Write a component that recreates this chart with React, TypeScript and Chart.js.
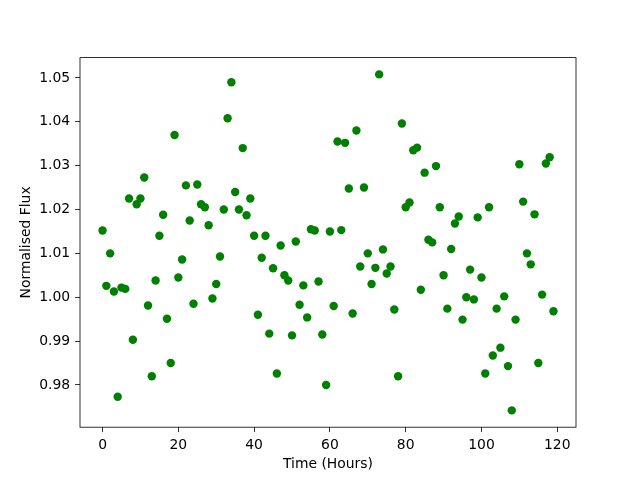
import React, { useEffect, useRef } from "react";
import { Chart, registerables } from "chart.js";

Chart.register(...registerables);

const hours: number[] = Array.from({ length: 120 }, (_, i) => i);

const flux: number[] = [
  1.0152, 1.0026, 1.01, 1.0013, 0.9773, 1.0022, 1.0019, 1.0225, 0.9903, 1.0212,
  1.0225, 1.0273, 0.9981, 0.982, 1.0038, 1.014, 1.0188, 0.9951, 0.985, 1.037,
  1.0045, 1.0086, 1.0255, 1.0175, 0.9985, 1.0257, 1.0212, 1.0205, 1.0164, 0.9997,
  1.003, 1.0093, 1.02, 1.0408, 1.049, 1.024, 1.02, 1.034, 1.0187, 1.0225,
  1.014, 0.996, 1.009, 1.014, 0.9917, 1.0066, 0.9826, 1.0118, 1.005, 1.0038,
  0.9913, 1.0127, 0.9983, 1.0027, 0.9954, 1.0155, 1.0152, 1.0036, 0.9915, 0.98,
  1.015, 0.998, 1.0355, 1.0153, 1.0352, 1.0248, 0.9963, 1.038, 1.007, 1.025,
  1.01, 1.003, 1.0067, 1.0508, 1.0109, 1.0054, 1.007, 0.9972, 0.982, 1.0396,
  1.0205, 1.0216, 1.0335, 1.0341, 1.0017, 1.0284, 1.0131, 1.0125, 1.0299, 1.0205,
  1.005, 0.9974, 1.011, 1.0168, 1.0184, 0.9949, 1.0, 1.0063, 0.9995, 1.0182,
  1.0045, 0.9826, 1.0205, 0.9867, 0.9974, 0.9885, 1.0002, 0.9843, 0.9742, 0.9949,
  1.0303, 1.0218, 1.01, 1.0075, 1.0189, 0.985, 1.0006, 1.0305, 1.0319, 0.9968,
];

const xTicks: number[] = [0, 20, 40, 60, 80, 100, 120];
const yTicks: number[] = [0.98, 0.99, 1.0, 1.01, 1.02, 1.03, 1.04, 1.05];

const xLabel = "Time (Hours)";
const yLabel = "Normalised Flux";

const FONT = { family: "'DejaVu Sans', sans-serif", size: 13.9 };

export default function App() {
  const ref = useRef<HTMLCanvasElement | null>(null);

  useEffect(() => {
    if (!ref.current) return;
    const xMinD = Math.min(...hours), xMaxD = Math.max(...hours);
    const yMinD = Math.min(...flux), yMaxD = Math.max(...flux);
    const xm = (xMaxD - xMinD) * 0.05;
    const ym = (yMaxD - yMinD) * 0.05;

    const frame = {
      id: "frame",
      afterDatasetsDraw(chart: any) {
        const { ctx, chartArea: a } = chart;
        ctx.save();
        ctx.strokeStyle = "#000";
        ctx.lineWidth = 0.8;
        ctx.strokeRect(a.left, a.top, a.right - a.left, a.bottom - a.top);
        ctx.restore();
      },
    };

    const chart = new Chart(ref.current, {
      type: "scatter",
      data: {
        datasets: [
          {
            data: hours.map((h, i) => ({ x: h, y: flux[i] })),
            backgroundColor: "#008000",
            borderColor: "#008000",
            borderWidth: 0,
            pointRadius: 4.2,
            pointHoverRadius: 4.2,
          },
        ],
      },
      options: {
        responsive: false,
        animation: false,
        devicePixelRatio: 1,
        layout: { padding: { left: 0, top: 57.6, right: 64, bottom: 0 } },
        plugins: { legend: { display: false }, tooltip: { enabled: false } },
        scales: {
          x: {
            type: "linear",
            min: xMinD - xm,
            max: xMaxD + xm,
            afterFit: (s: any) => { s.height = 52.8; },
            afterBuildTicks: (s: any) => { s.ticks = xTicks.map((v) => ({ value: v })); },
            border: { display: false },
            grid: { display: true, drawOnChartArea: false, drawTicks: true, tickLength: 4.9, tickColor: "#000", lineWidth: 0.8 },
            ticks: { color: "#000", font: FONT, padding: 5, maxRotation: 0, autoSkip: false, callback: (v: any) => String(v) },
            title: { display: true, text: xLabel, color: "#000", font: FONT, padding: { top: 0, bottom: 7.7 } },
          },
          y: {
            type: "linear",
            min: yMinD - ym,
            max: yMaxD + ym,
            afterFit: (s: any) => { s.width = 80; },
            afterBuildTicks: (s: any) => { s.ticks = yTicks.map((v) => ({ value: v })); },
            border: { display: false },
            grid: { display: true, drawOnChartArea: false, drawTicks: true, tickLength: 4.9, tickColor: "#000", lineWidth: 0.8 },
            ticks: { color: "#000", font: FONT, padding: 4.9, autoSkip: false, callback: (v: any) => Number(v).toFixed(2) },
            title: { display: true, text: yLabel, color: "#000", font: FONT, padding: { top: 17.7, bottom: 0 } },
          },
        },
      },
      plugins: [frame],
    });
    return () => chart.destroy();
  }, []);

  return (
    <div style={{ position: "fixed", left: 0, top: 0, width: 640, height: 480, background: "#fff" }}>
      <canvas ref={ref} width={640} height={480} />
    </div>
  );
}
